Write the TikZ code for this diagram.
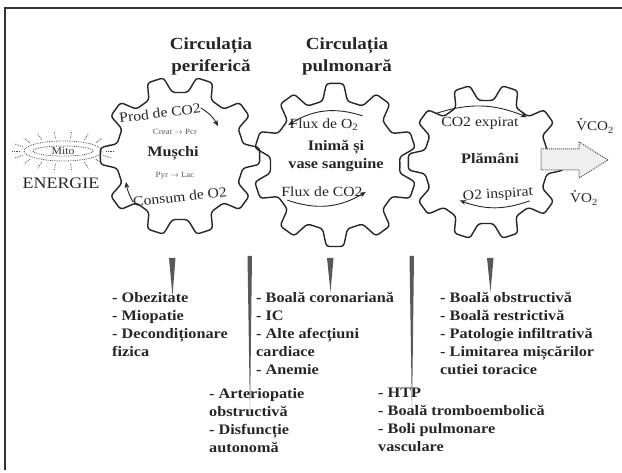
\documentclass[tikz,border=0pt]{standalone}
\usepackage{fontspec}
\setmainfont{Liberation Serif}[FakeStretch=1.12]
\usetikzlibrary{arrows.meta}
\newcommand{\drawgear}[5]{%
  \draw[gearline] ({#1+#3*cos(#5-18)},{#2+#3*sin(#5-18)})
  \foreach \k in {0,...,9}{
    -- ({#1+#3*cos(#5+\k*36-11)},{#2+#3*sin(#5+\k*36-11)})
    -- ({#1+#4*cos(#5+\k*36-6)},{#2+#4*sin(#5+\k*36-6)})
    -- ({#1+#4*cos(#5+\k*36+6)},{#2+#4*sin(#5+\k*36+6)})
    -- ({#1+#3*cos(#5+\k*36+11)},{#2+#3*sin(#5+\k*36+11)})
  } -- cycle;}
\begin{document}
\begin{tikzpicture}[x=1pt,y=-1pt,
  gearline/.style={line width=1.4pt, draw=black!85, rounded corners=3pt},
  flow/.style={line width=0.9pt, draw=black!85, -{Stealth[length=6pt,width=5pt]}},
  lbl/.style={inner sep=0pt, text=black!85, font=\fontsize{14}{16}\selectfont},
  titletxt/.style={align=center, inner sep=0pt, text=black!85, font=\bfseries\fontsize{17}{22}\selectfont},
  listtxt/.style={align=left, anchor=north west, inner sep=0pt, text=black!85, font=\bfseries\fontsize{14.5}{18}\selectfont},
  gname/.style={inner sep=0pt, align=center, text=black!85, font=\bfseries\fontsize{14.5}{18}\selectfont},
  tinytxt/.style={inner sep=0pt, text=black!65, font=\fontsize{8}{9}\selectfont},
  wedge/.style={fill=black!65},
  mitoline/.style={densely dotted, line width=0.8pt, draw=black!70},
  vtxt/.style={inner sep=0pt, anchor=base west, text=black!85, font=\fontsize{13.5}{16}\selectfont},
]
\useasboundingbox (0,0) rectangle (622,473);
\fill[white] (0,0) rectangle (622,473);
\draw[line width=1.6pt, black!80] (5,470) -- (5,8) -- (622,8);

% titles
\node[titletxt] (tper) at (211,56) {Circulația\\periferică};
\node[titletxt] (tpul) at (347,56) {Circulația\\pulmonară};

% gears
\drawgear{180}{156}{64}{80}{0}
\drawgear{335}{165}{65}{82}{18}
\drawgear{486}{162}{62}{78}{0}

% mitochondrion
\draw[mitoline] (63,151) ellipse [x radius=39, y radius=10];
\draw[mitoline] (63,151) ellipse [x radius=30, y radius=5];
\foreach \a in {0,20,...,340}{
  \draw[mitoline] ({63+43*cos(\a)},{151+13*sin(\a)}) -- ({63+51*cos(\a)},{151+20*sin(\a)});
}
\node[inner sep=0pt, text=black!80, font=\fontsize{10.5}{12}\selectfont] (mito) at (63,151) {Mito};
\node[inner sep=0pt, text=black!85, font=\fontsize{16}{18}\selectfont] (energie) at (61,183) {ENERGIE};

% gear 1 texts
\node[lbl, rotate=7] (prod) at (160,113) {Prod de CO2};
\coordinate (prodend) at (218,126);
\draw[flow] (prod.east) to[bend left=15] (prodend);
\node[tinytxt] (creat) at (175,132) {Creat $\rightarrow$ Pcr};
\node[gname] (muschi) at (173,153) {Mușchi};
\node[tinytxt] (pyr) at (175,176) {Pyr $\rightarrow$ Lac};
\node[lbl, rotate=6] (consum) at (180,197) {Consum de O2};
\coordinate (consend) at (126,182);
\draw[flow] (consum.west) to[bend left=10] (consend);

% gear 2 texts
\node[lbl] (fo2) at (324,125) {Flux de O\textsubscript{2}};
\draw[flow] ([xshift=4pt,yshift=3pt]fo2.north east) to[bend right=25] ([xshift=-1pt]fo2.west);
\node[gname] (inima) at (336,156) {Inimă și\\vase sanguine};
\node[lbl] (fco2) at (322,192) {Flux de CO2};
\draw[flow] ([xshift=6pt,yshift=-3pt]fco2.south west) to[bend right=25] ([xshift=3pt]fco2.east);

% gear 3 texts
\node[lbl] (cexp) at (480,123) {CO2 expirat};
\draw[flow] ([xshift=-6pt,yshift=3pt]cexp.north west) to[bend left=20] ([xshift=8pt,yshift=6pt]cexp.east);
\node[gname] (plam) at (490,158) {Plămâni};
\node[lbl, rotate=4] (oinsp) at (498,195) {O2 inspirat};
\draw[flow] ([xshift=-4pt,yshift=-2pt]oinsp.south east) to[bend left=20] ([xshift=-3pt,yshift=-3pt]oinsp.west);

% right side
\node[vtxt] (vco2) at (576,131) {VCO\textsubscript{2}};
\fill[black!85] ([xshift=5pt,yshift=3pt]vco2.north west) circle (1pt);
\node[vtxt] (vo2) at (570,203) {VO\textsubscript{2}};
\fill[black!85] ([xshift=5pt,yshift=3pt]vo2.north west) circle (1pt);
\draw[densely dotted, line width=1pt, draw=black!70, fill=black!6]
  (541,149) -- (579,149) -- (579,142) -- (608,160) -- (579,178) -- (579,170) -- (541,170) -- cycle;

% markers
\fill[wedge] (169,258) -- (175.5,258) -- (172.5,296) -- cycle;
\fill[wedge] (247.5,256) -- (252,256) -- (250,416) -- cycle;
\fill[wedge] (327,258) -- (333.5,258) -- (330.5,292) -- cycle;
\fill[wedge] (409.5,256) -- (414,256) -- (412,416) -- cycle;
\fill[wedge] (487,258) -- (493.5,258) -- (490.5,292) -- cycle;

% lists
\node[listtxt] (l1) at (112,292) {- Obezitate\\- Miopatie\\- Decondiționare\\fizica};
\node[listtxt] (l2) at (256,292) {- Boală coronariană\\- IC\\- Alte afecțiuni\\cardiace\\- Anemie};
\node[listtxt] (l3) at (440,292) {- Boală obstructivă\\- Boală restrictivă\\- Patologie infiltrativă\\- Limitarea mișcărilor\\cutiei toracice};
\node[listtxt] (l4) at (209,388) {- Arteriopatie\\obstructivă\\- Disfuncție\\autonomă};
\node[listtxt] (l5) at (378,388) {- HTP\\- Boală tromboembolică\\- Boli pulmonare\\vasculare};
\end{tikzpicture}
\end{document}
